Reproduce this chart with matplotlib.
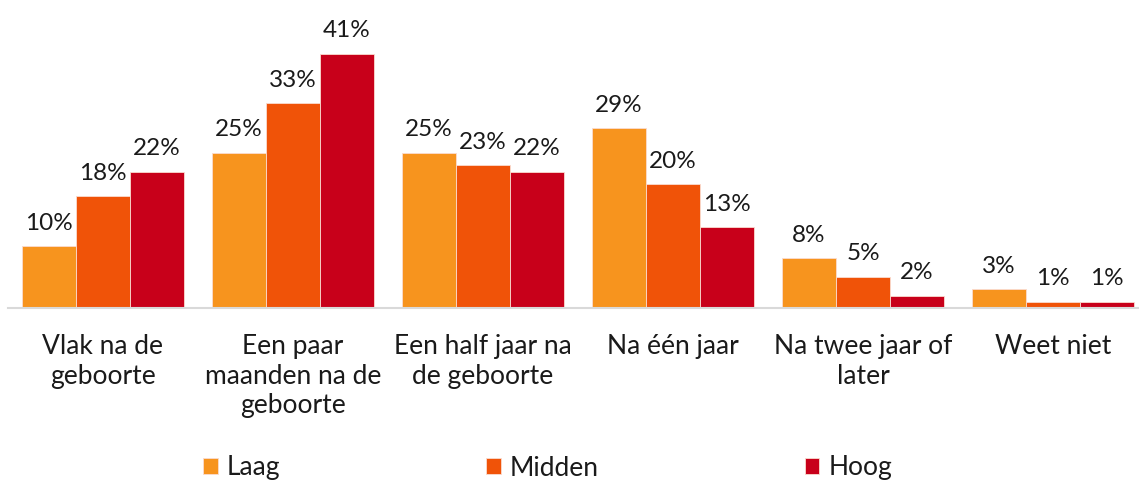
import matplotlib.pyplot as plt
import numpy as np

plt.rcParams['font.family'] = ['Lato', 'DejaVu Sans']

# Data
categories = ["Vlak na de\ngeboorte", "Een paar\nmaanden na de\ngeboorte",
              "Een half jaar na\nde geboorte", "Na één jaar",
              "Na twee jaar of\nlater", "Weet niet"]
series = ["Laag", "Midden", "Hoog"]
laag = [10, 25, 25, 29, 8, 3]
midden = [18, 33, 23, 20, 5, 1]
hoog = [22, 41, 22, 13, 2, 1]
colors = ["#F7941E", "#F05308", "#C8001A"]

fig = plt.figure(figsize=(11.39, 4.83), dpi=100)
ax = fig.add_axes([8 / 1139, 175 / 483, 1131 / 1139, 308 / 483])

x = np.arange(len(categories))
w = 54 / 190
for i, (vals, name, c) in enumerate(zip([laag, midden, hoog], series, colors)):
    bars = ax.bar(x + (i - 1) * w, vals, w, color=c, label=name,
                  edgecolor='#FADCD0', linewidth=0.6)
    for b, v in zip(bars, vals):
        ax.annotate(f"{v}%", (b.get_x() + b.get_width() / 2, v),
                    xytext=(0, 9), textcoords='offset points',
                    ha='center', va='bottom', fontsize=17.5, color='#1a1a1a')

ax.set_xlim(-0.5, 5.5 - 9 / 190)
ax.set_ylim(0, 308 / 6.2)
ax.set_yticks([])
ax.set_xticks(x)
ax.set_xticklabels(categories, fontsize=19, linespacing=1.22, va='top',
                   color='#1a1a1a')
ax.tick_params(axis='x', length=0, pad=19)
for s in ['top', 'right', 'left']:
    ax.spines[s].set_visible(False)
ax.spines['bottom'].set_color('#D9D9D9')
ax.spines['bottom'].set_linewidth(1.5)

leg = fig.legend(loc='center', bbox_to_anchor=(0.481, 1 - 468 / 483), ncol=3,
                 frameon=False, fontsize=19, handlelength=0.55, handleheight=0.55,
                 handletextpad=0.35, columnspacing=7.8)
for t in leg.get_texts():
    t.set_color('#1a1a1a')

fig.savefig("out.png", dpi=100)
